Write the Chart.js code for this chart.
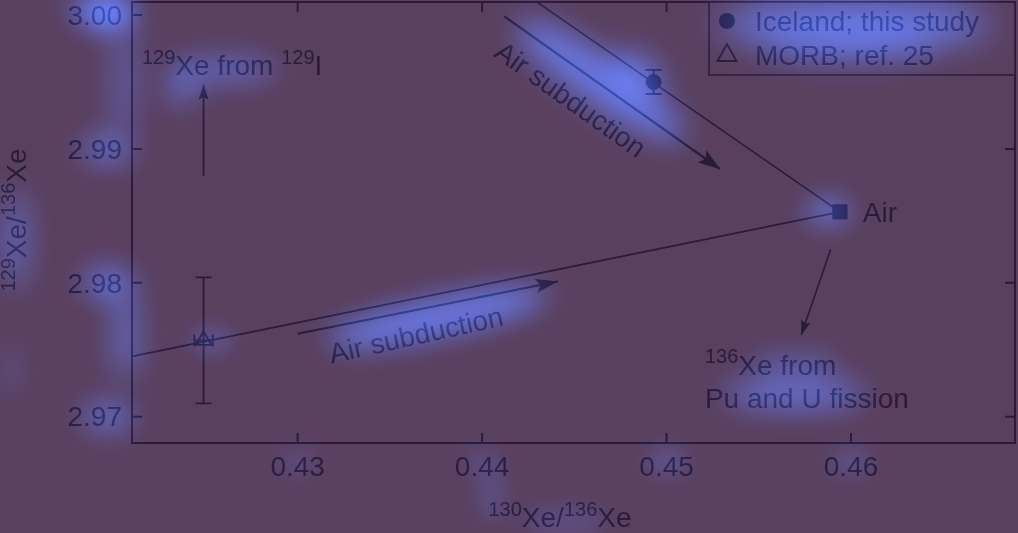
<!DOCTYPE html>
<html><head><meta charset="utf-8">
<script src="https://cdn.jsdelivr.net/npm/chart.js@4.4.1/dist/chart.umd.min.js"></script>
<style>html,body{margin:0;padding:0;background:#5a405f;overflow:hidden}canvas{display:block}</style>
</head><body>
<canvas id="c" width="1018" height="533"></canvas>
<script>
// ---------- data ----------
const xTicks = [0.43, 0.44, 0.45, 0.46];
const yTicks = [2.97, 2.98, 2.99, 3.00];
const icelandPoint = [{x: 0.4493, y: 2.9950}];
const icelandErr = [{dx: 0.0000, dy: 0.0009}];
const morbPoint = [{x: 0.4249, y: 2.9757}];
const morbErr = [{dx: 0.0005, dy: 0.0047}];
const airPoint = [{x: 0.4594, y: 2.9853}];
const icelandAirLine = [{x: 0.4594, y: 2.9853}, {x: 0.4420, y: 3.0019}];
const morbAirLine = [{x: 0.4210, y: 2.9745}, {x: 0.4594, y: 2.9853}];
const arrowIodine = [{x: 0.4249, y: 2.9880}, {x: 0.4249, y: 2.9948}];
const arrowSubdUpper = [{x: 0.4412, y: 2.9999}, {x: 0.4529, y: 2.9885}];
const arrowSubdLower = [{x: 0.4300, y: 2.9762}, {x: 0.4441, y: 2.9801}];
const arrowFission = [{x: 0.4589, y: 2.9825}, {x: 0.4573, y: 2.9761}];
const legendLabels = ['Iceland; this study', 'MORB; ref. 25'];

// ---------- style ----------
const BG = '#5a405f';
const INK = '#2a1b39';
const FONT = '"Liberation Sans", Arial, Helvetica, sans-serif';
const FS = 28;
const GLOW = [16, 62, 148];

// annotation texts (data-anchored)
const notes = [
  {segs: [{t: '129', s: 1}, {t: 'Xe from '}, {t: '129', s: 1}, {t: 'I'}], x: 0.42156, y: 2.99627, align: 'left', rot: 0},
  {segs: [{t: 'Air subduction'}], x: 0.44481, y: 2.99373, align: 'center', rot: 35.5},
  {segs: [{t: 'Air subduction'}], x: 0.43641, y: 2.97614, align: 'center', rot: -12.5},
  {segs: [{t: 'Air'}], x: 0.46064, y: 2.9853, align: 'left', rot: 0},
  {segs: [{t: '136', s: 1}, {t: 'Xe from'}], x: 0.45208, y: 2.9739, align: 'left', rot: 0},
  {segs: [{t: 'Pu and U fission'}], x: 0.45208, y: 2.97143, align: 'left', rot: 0}
];

function drawRich(ctx, segs, x, y, size, align) {
  const sup = Math.round(size * 0.7);
  const ws = segs.map(s => { ctx.font = (s.s ? sup : size) + 'px ' + FONT; return ctx.measureText(s.t).width; });
  const w = ws.reduce((a, b) => a + b, 0);
  let cx = align === 'center' ? x - w / 2 : x;
  ctx.textAlign = 'left'; ctx.textBaseline = 'alphabetic';
  const base = y + size * 0.36;
  segs.forEach((s, i) => {
    ctx.font = (s.s ? sup : size) + 'px ' + FONT;
    ctx.fillText(s.t, cx, s.s ? base - size * 0.40 : base);
    cx += ws[i];
  });
  return w;
}

// additive soft glow (attention-map look)
function blob(ctx, cx, cy, rx, ry, rotDeg, a, blur) {
  if (a <= 0) return;
  ctx.save();
  ctx.globalCompositeOperation = 'lighter';
  ctx.shadowColor = `rgba(${GLOW[0]},${GLOW[1]},${GLOW[2]},${a})`;
  ctx.shadowBlur = blur;
  ctx.shadowOffsetX = 5000; ctx.shadowOffsetY = 0;
  ctx.translate(cx - 5000, cy);
  ctx.rotate(rotDeg * Math.PI / 180);
  ctx.beginPath(); ctx.ellipse(0, 0, Math.max(rx, 1), Math.max(ry, 1), 0, 0, Math.PI * 2);
  ctx.fillStyle = '#000'; ctx.fill();
  ctx.restore();
}

function arrowHead(ctx, p0, p1, len, half) {
  const ang = Math.atan2(p1.y - p0.y, p1.x - p0.x);
  ctx.save();
  ctx.translate(p1.x, p1.y); ctx.rotate(ang);
  ctx.beginPath(); ctx.moveTo(0, 0); ctx.lineTo(-len, -half); ctx.lineTo(-len * 0.8, 0); ctx.lineTo(-len, half); ctx.closePath();
  ctx.fillStyle = INK; ctx.fill();
  ctx.restore();
}

const px = (c, p) => ({x: c.scales.x.getPixelForValue(p.x), y: c.scales.y.getPixelForValue(p.y)});

const decor = {
  id: 'decor',
  beforeDraw(c) {
    const ctx = c.ctx; ctx.save(); ctx.fillStyle = BG; ctx.fillRect(0, 0, c.width, c.height); ctx.restore();
  },
  afterDatasetsDraw(c) {
    const ctx = c.ctx, a = c.chartArea, xs = c.scales.x, ys = c.scales.y;
    ctx.save();
    // error bars
    ctx.strokeStyle = INK; ctx.lineWidth = 1.8;
    [[icelandPoint, icelandErr, 8], [morbPoint, morbErr, 8]].forEach(([pts, errs, cap]) => {
      pts.forEach((p, i) => {
        const e = errs[i], c0 = px(c, p);
        const yt = ys.getPixelForValue(p.y + e.dy), yb = ys.getPixelForValue(p.y - e.dy);
        ctx.beginPath();
        ctx.moveTo(c0.x, yt); ctx.lineTo(c0.x, yb);
        ctx.moveTo(c0.x - cap, yt); ctx.lineTo(c0.x + cap, yt);
        ctx.moveTo(c0.x - cap, yb); ctx.lineTo(c0.x + cap, yb);
        if (e.dx > 0) {
          const xl = xs.getPixelForValue(p.x - e.dx), xr = xs.getPixelForValue(p.x + e.dx);
          ctx.moveTo(xl, c0.y); ctx.lineTo(xr, c0.y);
          ctx.moveTo(xl, c0.y - 6); ctx.lineTo(xl, c0.y + 6);
          ctx.moveTo(xr, c0.y - 6); ctx.lineTo(xr, c0.y + 6);
        }
        ctx.stroke();
      });
    });
    // arrow heads
    [[arrowIodine, 15, 5], [arrowSubdUpper, 22, 7.5], [arrowSubdLower, 22, 7], [arrowFission, 15, 5]].forEach(([pts, l, h]) => {
      arrowHead(ctx, px(c, pts[0]), px(c, pts[1]), l, h);
    });
    // frame + inward ticks
    ctx.strokeStyle = INK; ctx.lineWidth = 2;
    ctx.strokeRect(a.left, a.top, a.right - a.left, a.bottom - a.top);
    ctx.beginPath();
    xTicks.forEach(v => { const X = xs.getPixelForValue(v); ctx.moveTo(X, a.bottom); ctx.lineTo(X, a.bottom - 10); ctx.moveTo(X, a.top); ctx.lineTo(X, a.top + 10); });
    yTicks.forEach(v => { const Y = ys.getPixelForValue(v); ctx.moveTo(a.left, Y); ctx.lineTo(a.left + 10, Y); ctx.moveTo(a.right, Y); ctx.lineTo(a.right - 10, Y); });
    ctx.stroke();
    // annotations
    ctx.fillStyle = INK;
    notes.forEach(n => {
      const p = px(c, n);
      ctx.save(); ctx.translate(p.x, p.y); ctx.rotate(n.rot * Math.PI / 180);
      n.w = drawRich(ctx, n.segs, 0, 0, FS, n.align);
      ctx.restore();
    });
    // legend
    const lx = 709, ly = a.top, lw = a.right - lx, lh = 73;
    ctx.fillStyle = BG; ctx.fillRect(lx, ly, lw, lh);
    ctx.lineWidth = 1.5; ctx.strokeRect(lx, ly, lw, lh);
    ctx.fillStyle = INK; ctx.strokeStyle = INK;
    ctx.beginPath(); ctx.arc(727, 21, 8, 0, Math.PI * 2); ctx.fill();
    ctx.beginPath(); ctx.moveTo(727, 44); ctx.lineTo(736.5, 61); ctx.lineTo(717.5, 61); ctx.closePath(); ctx.lineWidth = 1.8; ctx.stroke();
    drawRich(ctx, [{t: legendLabels[0]}], 755, 21, FS, 'left');
    drawRich(ctx, [{t: legendLabels[1]}], 755, 55, FS, 'left');
    // axis titles
    drawRich(ctx, [{t: '130', s: 1}, {t: 'Xe/'}, {t: '136', s: 1}, {t: 'Xe'}], 560, 517, FS, 'center');
    ctx.save(); ctx.translate(16, 220); ctx.rotate(-Math.PI / 2);
    drawRich(ctx, [{t: '129', s: 1}, {t: 'Xe/'}, {t: '136', s: 1}, {t: 'Xe'}], 0, 0, FS, 'center');
    ctx.restore();
    ctx.restore();
  },
  afterDraw(c) {
    const ctx = c.ctx, xs = c.scales.x, ys = c.scales.y;
    // left axis band
    const yg = {'2.97': 0.65, '2.98': 0.75, '2.99': 0.65, '3.00': 1.0};
    yTicks.forEach(v => { const Y = ys.getPixelForValue(v); blob(ctx, 108, Y, 26, 16, 0, yg[v.toFixed(2)], 28); });
    blob(ctx, 100, 8, 35, 10, 0, 0.6, 26);
    blob(ctx, 124, 80, 10, 55, 0, 0.6, 30);
    blob(ctx, 126, 335, 12, 45, 0, 0.7, 30);
    blob(ctx, 16, 240, 9, 50, 0, 0.85, 30);
    blob(ctx, 12, 370, 6, 25, 0, 0.4, 26);
    // x ticks & title
    const xg = {'0.43': 0.3, '0.44': 0.3, '0.45': 0.55, '0.46': 0.45};
    xTicks.forEach(v => { const X = xs.getPixelForValue(v); blob(ctx, X, 462, 18, 10, 0, xg[v.toFixed(2)], 24); });
    blob(ctx, 492, 495, 8, 25, 0, 0.45, 24);
    blob(ctx, 565, 522, 40, 8, 0, 0.45, 26);
    // annotations
    const n0 = px(c, notes[0]); blob(ctx, n0.x + 80, n0.y + 5, 55, 12, 0, 0.65, 28);
    blob(ctx, n0.x + 40, n0.y + 25, 18, 18, 0, 0.45, 26);
    const n4 = px(c, notes[4]); blob(ctx, n4.x + 90, n4.y - 2, 45, 10, 0, 0.45, 26);
    const n5 = px(c, notes[5]); blob(ctx, n5.x + 90, n5.y - 4, 70, 14, 0, 0.85, 30);
    // marks
    const ai = px(c, airPoint[0]); blob(ctx, ai.x - 12, ai.y, 22, 13, 0, 0.8, 26);
    const ic = px(c, icelandPoint[0]); blob(ctx, ic.x - 15, ic.y - 10, 28, 20, 35, 0.6, 30);
    const mo = px(c, morbPoint[0]); blob(ctx, mo.x + 8, mo.y, 20, 9, 0, 0.55, 22);
    const au0 = px(c, arrowSubdUpper[0]), au1 = px(c, arrowSubdUpper[1]);
    blob(ctx, (au0.x + au1.x) / 2 - 12, (au0.y + au1.y) / 2 - 12, 100, 24, 35, 0.85, 30);
    const al0 = px(c, arrowSubdLower[0]), al1 = px(c, arrowSubdLower[1]);
    blob(ctx, (al0.x + al1.x) / 2 + 10, (al0.y + al1.y) / 2 + 10, 112, 18, -12, 0.95, 28);
    // legend
    blob(ctx, 855, 24, 135, 22, 0, 1.0, 36);
    blob(ctx, 850, 50, 90, 10, 0, 0.5, 30);
  }
};

Chart.defaults.font.family = FONT;
Chart.defaults.color = INK;

const noPad = s => { s.paddingTop = 0; s.paddingBottom = 0; s.paddingLeft = 0; s.paddingRight = 0; };

new Chart(document.getElementById('c'), {
  type: 'scatter',
  data: {
    datasets: [
      {label: legendLabels[0], data: icelandPoint, pointStyle: 'circle', pointRadius: 7.5, backgroundColor: INK, borderColor: INK},
      {label: legendLabels[1], data: morbPoint, pointStyle: 'triangle', pointRadius: 9, backgroundColor: 'rgba(0,0,0,0)', borderColor: INK, borderWidth: 1.8},
      {label: 'Air', data: airPoint, pointStyle: 'rect', pointRadius: 10, backgroundColor: INK, borderColor: INK},
      {label: 'Iceland–air', data: icelandAirLine, showLine: true, pointRadius: 0, borderColor: INK, borderWidth: 1.6},
      {label: 'MORB–air', data: morbAirLine, showLine: true, pointRadius: 0, borderColor: INK, borderWidth: 1.6},
      {label: '129I', data: arrowIodine, showLine: true, pointRadius: 0, borderColor: INK, borderWidth: 1.8},
      {label: 'subduction 1', data: arrowSubdUpper, showLine: true, pointRadius: 0, borderColor: INK, borderWidth: 2.2},
      {label: 'subduction 2', data: arrowSubdLower, showLine: true, pointRadius: 0, borderColor: INK, borderWidth: 2.2},
      {label: 'fission', data: arrowFission, showLine: true, pointRadius: 0, borderColor: INK, borderWidth: 1.6}
    ]
  },
  options: {
    responsive: false, animation: false, devicePixelRatio: 1,
    layout: {autoPadding: false, padding: {top: 2, right: 3, left: 0, bottom: 0}},
    plugins: {legend: {display: false}, tooltip: {enabled: false}},
    scales: {
      x: {
        type: 'linear', min: 0.42102, max: 0.46889,
        grid: {display: false, drawTicks: false}, border: {display: false},
        afterBuildTicks: s => { s.ticks = xTicks.map(v => ({value: v})); },
        afterFit: s => { s.height = 90; noPad(s); },
        ticks: {padding: 8, color: INK, font: {size: FS}, callback: v => v.toFixed(2)}
      },
      y: {
        type: 'linear', min: 2.96804, max: 3.00097,
        grid: {display: false, drawTicks: false}, border: {display: false},
        afterBuildTicks: s => { s.ticks = yTicks.map(v => ({value: v})); },
        afterFit: s => { s.width = 132; noPad(s); },
        ticks: {padding: 10, labelOffset: 2, color: INK, font: {size: FS}, callback: v => v.toFixed(2)}
      }
    }
  },
  plugins: [decor]
});
</script>
</body></html>
